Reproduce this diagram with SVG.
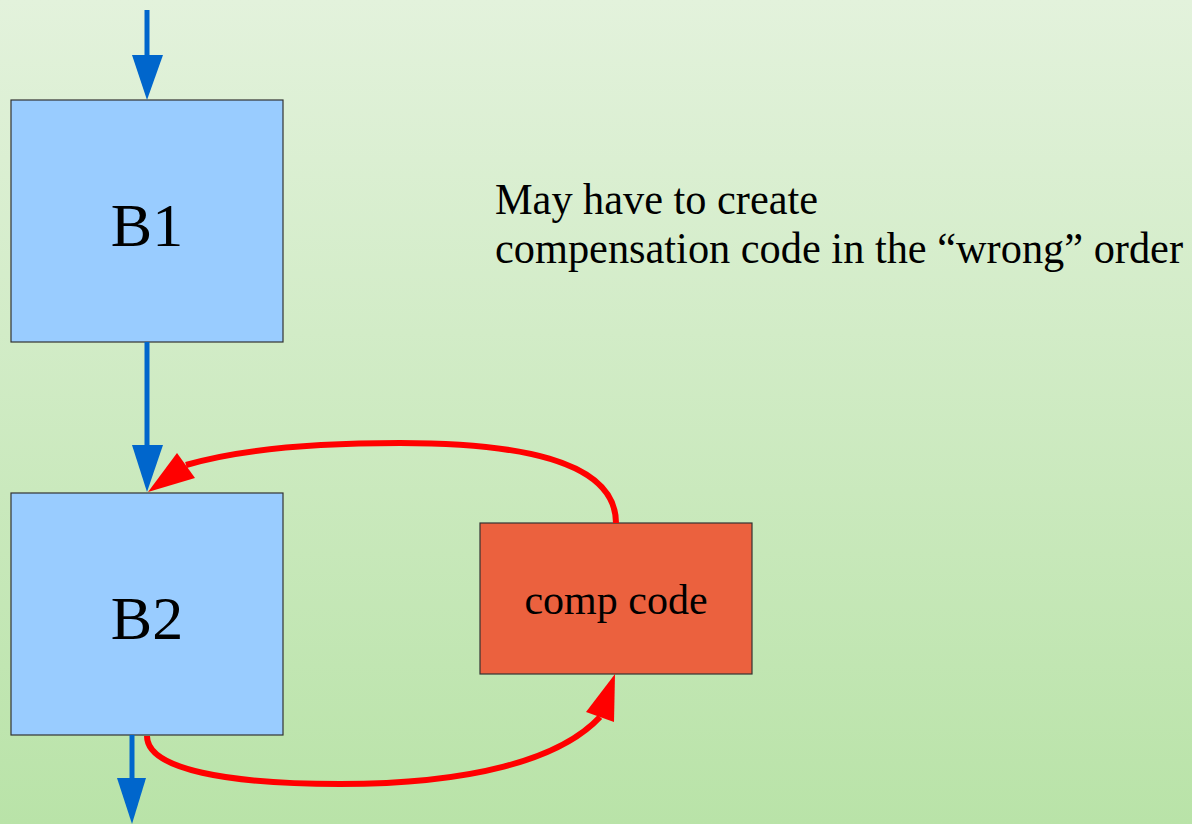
<svg xmlns="http://www.w3.org/2000/svg" width="1192" height="824" viewBox="0 0 1192 824">
  <defs>
    <linearGradient id="bg" x1="0" y1="0" x2="0" y2="1">
      <stop offset="0" stop-color="#e3f2dc"/>
      <stop offset="1" stop-color="#b9e3a8"/>
    </linearGradient>
    <style>
      .block { fill: #99ccff; stroke: #333333; stroke-width: 1.2; }
      .comp { fill: #eb613e; stroke: #333333; stroke-width: 1.2; }
      .label { font-family: "Liberation Serif", "Times New Roman", serif; fill: #000000; }
      .flow { stroke: #0066cc; stroke-width: 5; fill: none; }
      .flowhead { fill: #0066cc; }
      .fix { stroke: #ff0000; stroke-width: 6; fill: none; }
      .fixhead { fill: #ff0000; }
    </style>
  </defs>

  <rect x="0" y="0" width="1192" height="824" fill="url(#bg)"/>

  <!-- basic blocks -->
  <g id="B1">
    <rect class="block" x="11" y="100" width="272" height="242"/>
    <text class="label" x="147" y="246" font-size="62" text-anchor="middle">B1</text>
  </g>
  <g id="B2">
    <rect class="block" x="11" y="493" width="272" height="242"/>
    <text class="label" x="147" y="639" font-size="62" text-anchor="middle">B2</text>
  </g>
  <g id="comp-code">
    <rect class="comp" x="480" y="523" width="272" height="151"/>
    <text class="label" x="616" y="614" font-size="42" text-anchor="middle">comp code</text>
  </g>

  <g id="note">
    <text class="label" x="495" y="214" font-size="45" textLength="323" lengthAdjust="spacingAndGlyphs">May have to create</text>
    <text class="label" x="495" y="263" font-size="45" textLength="688" lengthAdjust="spacingAndGlyphs">compensation code in the “wrong” order</text>
  </g>

  <!-- connectors -->
  <g id="connectors">
    <!-- control flow -->
    <line class="flow" x1="147" y1="10" x2="147" y2="58"/>
    <polygon class="flowhead" points="132,55 163,55 147,100"/>
    <line class="flow" x1="147" y1="342" x2="147" y2="448"/>
    <polygon class="flowhead" points="132,445 163,445 147,492"/>
    <line class="flow" x1="132" y1="735" x2="132" y2="781"/>
    <polygon class="flowhead" points="117,778 146,778 132,824"/>

    <!-- compensation code edges -->
    <path class="fix" d="M616,523 C616,458 510,443 400,443 C300,443 230,452 186,465"/>
    <polygon class="fixhead" points="148,492 177,453 195,478"/>
    <path class="fix" d="M147,736 C147,770 230,784 340,784 C470,784 560,760 600,717"/>
    <polygon class="fixhead" points="615,674 586,712 614,722"/>
  </g>
</svg>
